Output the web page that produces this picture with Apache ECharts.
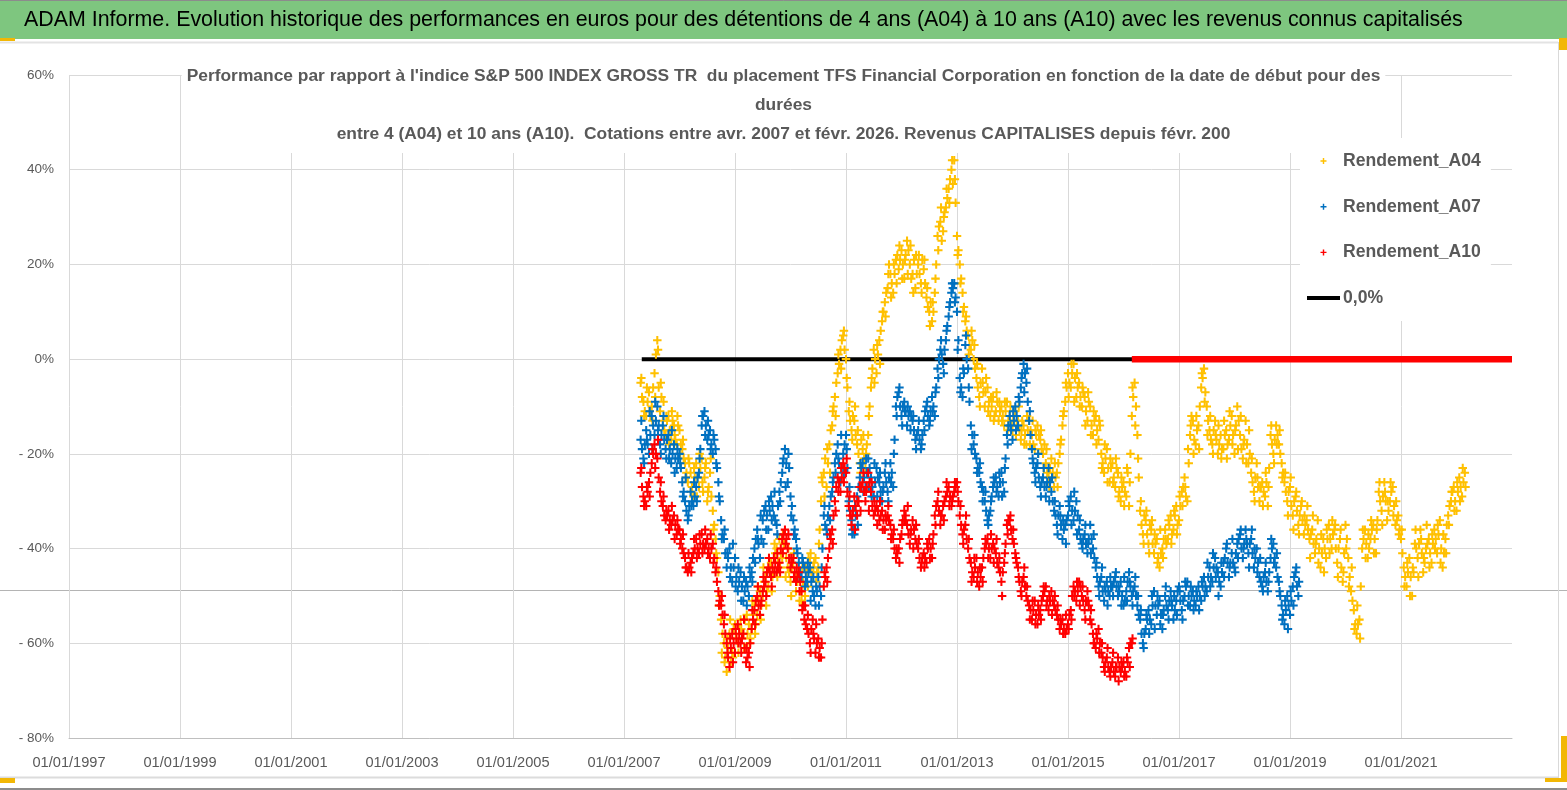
<!DOCTYPE html>
<html>
<head>
<meta charset="utf-8">
<script src="https://cdn.jsdelivr.net/npm/echarts@6/dist/echarts.min.js"></script>
<style>
  html, body { margin: 0; padding: 0; background: #fff; }
  #chart { width: 1567px; height: 790px; }
</style>
</head>
<body>
<div id="chart"></div>
<script>
const headerText = 'ADAM Informe. Evolution historique des performances en euros pour des détentions de 4 ans (A04) à 10 ans (A10) avec les revenus connus capitalisés'
const titleLines = [
  "Performance par rapport à l'indice S&P 500 INDEX GROSS TR  du placement TFS Financial Corporation en fonction de la date de début pour des",
  'durées',
  'entre 4 (A04) et 10 ans (A10).  Cotations entre avr. 2007 et févr. 2026. Revenus CAPITALISES depuis févr. 200'
]
const seriesNames = ['Rendement_A04', 'Rendement_A07', 'Rendement_A10', '0,0%']

// x axis in years, labels 01/01/yyyy every 2 years
const xMin = 1997
const xMax = 2023
const xStep = 2
// y axis in %
const yMin = -80
const yMax = 60
const yStep = 20

// samples: one every 0.05 year from the first quotation,
// plus sets read a quarter and a half step after them
const sampleStart = 2007.30
const sampleStep = 0.05

const a04Values = [
  -5, -9, -12, -7, -10, -3, 4, -11, -13, -16,
  -12, -17, -14, -18, -15, -19, -22, -26, -24, -29,
  -22, -27, -21, -25, -30, -24, -32, -38, -45, -55,
  -60, -66, -58, -62, -56, -60, -55, -58, -61, -56,
  -57, -52, -54, -49, -50, -46, -48, -43, -45, -40,
  -38, -42, -39, -44, -47, -43, -49, -46, -51, -48,
  -45, -43, -46, -42, -44, -30, -24, -27, -18, -14,
  -8, -3, 2, 5, 0, -11, -15, -13, -18, -22,
  -19, -23, -16, -6, 2, -3, 4, 8, 12, 15,
  18, 14, 21, 19, 23, 17, 25, 20, 18, 15,
  20, 16, 19, 13, 10, 8, 14, 26, 29, 27,
  32, 36, 40, 42, 26, 20, 14, 8, 5, 2,
  0, -4, -8, -2, -10, -6, -12, -8, -11, -13,
  -10, -14, -9, -12, -15, -11, -13, -17, -14, -18,
  -13, -16, -19, -14, -17, -20, -22, -25, -21, -27,
  -24, -20, -14, -9, -3, -6, -1, -8, -5, -10,
  -8, -13, -10, -16, -12, -17, -20, -24, -19, -26,
  -22, -27, -24, -30, -26, -29, -31, -12, -5, -16,
  -32, -37, -34, -39, -36, -41, -38, -44, -40, -36,
  -38, -33, -36, -31, -34, -28, -25, -30, -16, -13,
  -18, -14, -6, -2, -10, -15, -18, -13, -20, -16,
  -19, -15, -17, -12, -20, -10, -16, -21, -13, -22,
  -24, -28, -22, -30, -26, -29, -31, -16, -20, -14,
  -18, -22, -26, -30, -27, -33, -29, -35, -31, -37,
  -34, -38, -36, -41, -34, -44, -38, -42, -35, -40,
  -36, -43, -38, -47, -35, -42, -49, -53, -58, -55,
  -40, -36, -42, -38, -35, -41, -28, -32, -26, -34,
  -30, -27, -35, -33, -38, -44, -48, -42, -50, -39,
  -42, -36, -45, -40, -38, -43, -36, -41, -34, -44,
  -38, -33, -30, -27, -32, -25, -29, -24
]
const a04Quarter = [
  -4, -12, -6, -11, -13, -8, 2, -5, -9, -12,
  -18, -11, -16, -12, -20, -17, -25, -21, -28, -23,
  -29, -20, -26, -23, -28, -21, -36, -41, -52, -62,
  -64, -59, -55, -63, -58, -62, -57, -61, -54, -60,
  -51, -58, -48, -55, -44, -52, -42, -49, -39, -46,
  -44, -37, -46, -40, -50, -41, -45, -51, -44, -50,
  -48, -41, -44, -47, -39, -25, -29, -19, -24, -11,
  -12, 1, -2, 6, -4, -9, -17, -10, -15, -24,
  -16, -20, -12, -4, -5, 3, -1, 10, 9, 18,
  13, 20, 16, 24, 17, 21, 18, 24, 14, 22,
  22, 14, 21, 15, 7, 12, 17, 23, 32, 30,
  36, 33, 42, 38, 22, 16, 10, 9, 1, 6,
  3, -1, -10, -5, -7, -11, -8, -13, -7, -9,
  -13, -9, -15, -10, -13, -16, -10, -15, -18, -12,
  -18, -13, -15, -20, -15, -23, -19, -27, -25, -22,
  -27, -18, -12, -5, -8, -1, -9, -3, -10, -6,
  -14, -7, -16, -11, -18, -13, -23, -18, -26, -21,
  -26, -21, -29, -25, -31, -23, -26, -6, -14, -21,
  -30, -39, -32, -41, -34, -37, -43, -36, -42, -38,
  -34, -39, -32, -37, -29, -31, -27, -19, -14, -20,
  -12, -19, -3, -9, -16, -12, -20, -16, -14, -21,
  -13, -21, -11, -18, -15, -19, -12, -18, -22, -15,
  -21, -30, -25, -27, -31, -24, -27, -14, -22, -18,
  -15, -25, -24, -33, -25, -36, -28, -37, -30, -33,
  -31, -42, -33, -39, -43, -37, -45, -36, -41, -34,
  -35, -46, -36, -45, -40, -48, -44, -57, -52, -59,
  -36, -42, -37, -34, -41, -36, -26, -35, -28, -30,
  -26, -33, -30, -37, -36, -48, -43, -50, -44, -36,
  -46, -38, -42, -35, -44, -37, -40, -35, -43, -37,
  -41, -35, -28, -32, -26, -30, -23, -27
]
const a04Mid = [
  -8, -11, -9, -12, -6, 1, -6, -8, -15, -13,
  -15, -13, -17, -14, -18, -21, -24, -22, -27, -25,
  -25, -23, -28, -22, -27, -29, -35, -42, -50, -58,
  -63, -61, -64, -57, -59, -57, -59, -55, -58, -59,
  -54, -56, -51, -52, -47, -49, -44, -46, -41, -43,
  -41, -39, -42, -45, -44, -46, -47, -49, -47, -44,
  -42, -45, -43, -45, -36, -26, -21, -22, -15, -10,
  -5, -1, 4, 2, -6, -13, -12, -16, -20, -17,
  -21, -18, -10, -2, 0, 1, 6, 10, 14, 20,
  16, 18, 22, 21, 20, 22, 23, 17, 21, 18,
  18, 21, 16, 11, 12, 10, 20, 28, 25, 31,
  34, 38, 37, 33, 23, 17, 11, 6, 3, 4,
  -2, -6, -5, -7, -4, -9, -10, -12, -9, -11,
  -12, -11, -13, -14, -12, -14, -15, -13, -16, -15,
  -15, -18, -16, -16, -19, -18, -24, -23, -24, -25,
  -22, -17, -11, -6, -5, -3, -4, -6, -8, -7,
  -11, -9, -14, -13, -15, -14, -22, -21, -23, -23,
  -25, -23, -28, -27, -28, -24, -20, -8, -10, -25,
  -35, -33, -37, -35, -39, -39, -42, -41, -38, -39,
  -35, -37, -33, -35, -31, -27, -29, -22, -12, -17,
  -15, -10, -4, -7, -13, -17, -15, -17, -18, -19,
  -16, -18, -14, -16, -14, -13, -19, -17, -18, -20,
  -26, -25, -27, -27, -28, -26, -23, -18, -17, -16,
  -20, -24, -28, -28, -31, -30, -32, -33, -34, -35,
  -36, -37, -39, -38, -40, -41, -40, -38, -38, -37,
  -40, -40, -44, -41, -38, -46, -51, -56, -56, -48,
  -38, -39, -40, -36, -38, -34, -30, -29, -30, -32,
  -28, -31, -34, -36, -41, -46, -45, -46, -45, -40,
  -39, -41, -43, -39, -41, -39, -38, -37, -40, -41,
  -35, -31, -28, -30, -28, -27, -26
]

const a07Values = [
  -17, -21, -15, -20, -12, -16, -10, -18, -14, -19,
  -16, -22, -18, -23, -20, -26, -30, -34, -28, -31,
  -27, -24, -14, -11, -17, -15, -20, -19, -26, -34,
  -38, -44, -40, -47, -42, -49, -45, -51, -47, -50,
  -45, -40, -36, -42, -34, -31, -36, -29, -33, -35,
  -28, -24, -19, -26, -29, -34, -38, -43, -46, -44,
  -47, -44, -49, -52, -46, -50, -33, -36, -31, -28,
  -22, -18, -26, -20, -16, -30, -34, -37, -29, -25,
  -22, -27, -21, -25, -29, -23, -26, -30, -24, -28,
  -22, -27, -10, -7, -12, -9, -14, -11, -13, -17,
  -15, -19, -13, -10, -14, -8, -12, -2, 2, -1,
  4, 9, 14, 16, 10, -4, -8, 3, -2, -14,
  -18, -21, -24, -27, -30, -34, -32, -27, -25, -29,
  -24, -28, -16, -12, -17, -10, -14, -6, -1, -5,
  -13, -19, -24, -22, -27, -25, -29, -23, -28, -32,
  -35, -31, -38, -35, -33, -29, -34, -30, -36, -39,
  -37, -41, -35, -40, -44, -48, -46, -51, -47, -50,
  -48, -46, -50, -47, -52, -49, -45, -50, -48, -52,
  -55, -60, -57, -53, -56, -49, -54, -51, -57, -50,
  -53, -49, -55, -51, -48, -53, -50, -47, -52, -49,
  -52, -48, -51, -46, -49, -44, -47, -42, -45, -48,
  -43, -40, -46, -41, -44, -39, -37, -42, -36, -41,
  -38, -44, -40, -46, -48, -45, -49, -42, -39, -44,
  -47, -52, -56, -50, -54, -48, -45, -50
]
const a07Quarter = [
  -13, -22, -17, -11, -19, -9, -15, -20, -12, -21,
  -21, -15, -24, -19, -22, -29, -25, -33, -31, -26,
  -30, -21, -12, -16, -13, -19, -16, -22, -29, -38,
  -36, -41, -46, -39, -48, -44, -51, -46, -52, -44,
  -47, -43, -38, -33, -39, -36, -30, -34, -28, -37,
  -30, -22, -27, -20, -33, -37, -40, -46, -42, -48,
  -43, -51, -46, -48, -52, -44, -31, -37, -34, -26,
  -24, -21, -16, -24, -19, -27, -37, -31, -35, -22,
  -28, -21, -27, -29, -22, -29, -24, -28, -22, -30,
  -26, -20, -12, -6, -14, -11, -10, -15, -12, -19,
  -13, -18, -15, -9, -13, -11, -7, -4, 4, -3,
  6, 11, 16, 12, 2, -7, -2, 5, -6, -19,
  -16, -24, -22, -30, -28, -35, -30, -25, -28, -24,
  -29, -23, -18, -14, -11, -15, -8, -4, -7, -2,
  -11, -21, -26, -20, -29, -23, -27, -30, -25, -30,
  -37, -33, -34, -39, -30, -35, -28, -37, -34, -40,
  -35, -39, -41, -37, -43, -50, -44, -48, -52, -46,
  -50, -45, -48, -52, -46, -51, -47, -52, -46, -50,
  -53, -61, -54, -58, -50, -57, -50, -56, -54, -48,
  -55, -51, -50, -54, -49, -55, -47, -52, -48, -53,
  -49, -53, -47, -50, -43, -48, -41, -46, -50, -43,
  -46, -39, -44, -38, -45, -42, -36, -40, -38, -44,
  -36, -40, -45, -42, -49, -43, -47, -38, -43, -41,
  -49, -55, -51, -57, -49, -52, -44, -47
]
const a07Mid = [
  -19, -18, -18, -16, -14, -13, -14, -16, -17, -17,
  -19, -20, -21, -21, -23, -28, -32, -31, -30, -29,
  -25, -19, -12, -14, -16, -18, -17, -23, -30, -37,
  -41, -42, -44, -44, -46, -47, -48, -49, -48, -46,
  -42, -38, -39, -38, -32, -33, -32, -31, -34, -31,
  -26, -21, -22, -23, -31, -36, -41, -45, -43, -46,
  -45, -47, -50, -49, -48, -40, -35, -33, -29, -25,
  -20, -22, -23, -18, -23, -32, -36, -33, -27, -23,
  -25, -24, -23, -27, -26, -25, -28, -27, -26, -25,
  -24, -17, -8, -10, -10, -11, -12, -12, -15, -16,
  -17, -16, -11, -12, -11, -10, -6, 0, 1, 2,
  7, 12, 15, 13, 4, -6, -3, 0, -9, -16,
  -20, -23, -26, -28, -32, -33, -29, -26, -27, -26,
  -26, -21, -14, -15, -13, -12, -9, -3, -3, -9,
  -16, -22, -23, -25, -26, -27, -26, -26, -30, -33,
  -33, -35, -36, -34, -31, -32, -32, -33, -38, -38,
  -39, -38, -38, -42, -46, -47, -49, -49, -49, -48,
  -47, -48, -49, -50, -51, -47, -48, -49, -50, -54,
  -58, -58, -55, -55, -52, -52, -52, -54, -53, -52,
  -51, -52, -53, -49, -51, -51, -48, -50, -50, -51,
  -50, -50, -48, -48, -46, -46, -44, -44, -47, -45,
  -42, -43, -43, -43, -41, -38, -40, -39, -39, -39,
  -41, -42, -43, -47, -46, -47, -45, -40, -42, -46,
  -50, -54, -53, -52, -51, -46, -48
]

const a10Values = [
  -24, -29, -31, -26, -22, -18, -21, -28, -31, -34,
  -32, -35, -33, -37, -36, -40, -42, -45, -43, -41,
  -38, -41, -37, -40, -38, -42, -39, -45, -49, -52,
  -56, -60, -65, -58, -62, -56, -60, -58, -64, -62,
  -57, -53, -50, -54, -49, -47, -44, -46, -42, -45,
  -43, -38, -36, -40, -44, -42, -47, -45, -49, -55,
  -57, -60, -55, -62, -59, -63, -48, -44, -40, -36,
  -30, -25, -28, -22, -24, -31, -35, -29, -33, -27,
  -26, -30, -24, -28, -33, -31, -34, -32, -36, -33,
  -35, -38, -42, -40, -37, -32, -35, -39, -34, -38,
  -40, -44, -41, -43, -38, -42, -33, -30, -35, -31,
  -29, -27, -31, -28, -26, -33, -37, -35, -40, -43,
  -46, -42, -48, -44, -40, -38, -42, -39, -41, -44,
  -47, -43, -35, -34, -38, -41, -44, -49, -46, -50,
  -52, -55, -51, -56, -53, -50, -48, -53, -49, -52,
  -54, -57, -55, -58, -56, -53, -48, -51, -47, -50,
  -53, -49, -55, -58, -61, -57, -62, -65, -63, -66,
  -64, -67, -63, -66, -64, -67, -61, -60
]
const a10Quarter = [
  -23, -31, -27, -29, -19, -23, -17, -26, -29, -32,
  -36, -31, -38, -34, -39, -37, -44, -41, -45, -38,
  -42, -37, -41, -36, -41, -37, -43, -44, -52, -50,
  -54, -62, -59, -64, -57, -60, -62, -55, -61, -65,
  -53, -56, -48, -52, -46, -50, -42, -48, -45, -41,
  -45, -41, -39, -37, -42, -46, -44, -49, -53, -52,
  -54, -62, -58, -56, -63, -60, -45, -47, -37, -39,
  -32, -28, -23, -26, -21, -29, -33, -36, -30, -32,
  -24, -28, -32, -26, -30, -35, -30, -36, -33, -31,
  -38, -36, -40, -43, -35, -34, -31, -37, -40, -35,
  -38, -43, -44, -39, -42, -39, -35, -28, -33, -34,
  -26, -31, -30, -26, -28, -31, -39, -33, -38, -47,
  -42, -47, -44, -47, -38, -42, -37, -43, -38, -42,
  -50, -41, -37, -33, -36, -42, -46, -50, -44, -48,
  -55, -51, -56, -52, -55, -48, -52, -50, -54, -50,
  -52, -55, -58, -54, -57, -55, -50, -47, -52, -48,
  -55, -51, -53, -60, -58, -62, -60, -66, -61, -67,
  -62, -65, -68, -64, -67, -63, -65, -59
]
const a10Mid = [
  -27, -30, -28, -24, -20, -20, -25, -30, -33, -33,
  -34, -34, -35, -36, -38, -41, -44, -44, -42, -40,
  -40, -39, -39, -39, -40, -40, -42, -47, -51, -54,
  -58, -63, -61, -60, -59, -58, -59, -61, -63, -60,
  -55, -51, -52, -51, -48, -45, -45, -44, -43, -44,
  -40, -37, -38, -42, -43, -45, -46, -47, -52, -56,
  -58, -57, -59, -60, -61, -55, -46, -42, -38, -33,
  -27, -26, -25, -23, -28, -33, -32, -31, -30, -27,
  -28, -27, -26, -31, -32, -32, -33, -34, -34, -34,
  -37, -40, -41, -38, -34, -33, -37, -36, -36, -39,
  -42, -42, -42, -40, -40, -37, -31, -32, -33, -30,
  -28, -29, -29, -27, -30, -35, -36, -38, -42, -45,
  -44, -45, -46, -42, -39, -40, -40, -40, -43, -45,
  -45, -39, -34, -36, -39, -43, -47, -47, -48, -51,
  -53, -53, -54, -54, -51, -49, -51, -51, -51, -53,
  -55, -56, -57, -57, -54, -50, -49, -49, -48, -51,
  -51, -52, -56, -60, -59, -60, -63, -64, -65, -65,
  -66, -65, -65, -65, -66, -64, -60
]

// reference line 0,0% and the A10 cells left at 0 after its last value
const zeroLine = [[2007.32, 0], [2023, 0]]
const a10ZeroTail = [[2016.15, 0], [2023, 0]]

const colors = { a04: '#FFC000', a07: '#0070C0', a10: '#FF0000', zero: '#000000' }
const font = "'Liberation Sans', Arial, sans-serif"
const plus = 'path://M3.8,0H6.2V3.8H10V6.2H6.2V10H3.8V6.2H0V3.8H3.8Z'

function toPoints(values, shift) {
  return values.map((v, i) => [+(sampleStart + (i + shift) * sampleStep).toFixed(4), v])
}

function scatter(name, values, quarter, mid, color) {
  return {
    name: name,
    type: 'scatter',
    symbol: plus,
    symbolSize: 8.5,
    large: false,
    itemStyle: { color: color, opacity: 1 },
    data: toPoints(values, 0).concat(toPoints(quarter, 0.25), toPoints(mid, 0.5)),
    silent: true,
    animation: false
  }
}

const chart = echarts.init(document.getElementById('chart'), null, { renderer: 'canvas' })

const option = {
  backgroundColor: '#ffffff',
  animation: false,
  textStyle: { fontFamily: font },
  title: {
    text: titleLines.join('\n'),
    left: 'center',
    top: 57,
    z: 2,
    backgroundColor: '#ffffff',
    padding: [5, 5, 4, 5],
    textStyle: {
      fontFamily: font,
      fontSize: 17.4,
      fontWeight: 'bold',
      color: '#595959',
      lineHeight: 29,
      align: 'center'
    }
  },
  legend: {
    data: [
      { name: 'Rendement_A04' },
      { name: 'Rendement_A07' },
      { name: 'Rendement_A10' },
      { name: '0,0%', icon: 'path://M0,0H33V4H0Z' }
    ],
    orient: 'vertical',
    left: 1300,
    top: 138,
    z: 10,
    backgroundColor: '#ffffff',
    padding: [14, 10, 14, 7],
    itemGap: 27.7,
    itemWidth: 33,
    itemHeight: 6,
    textStyle: { fontFamily: font, fontSize: 17.6, fontWeight: 'bold', color: '#595959', padding: [0, 0, 0, -2] }
  },
  grid: { left: 69, right: 55, top: 75, bottom: 52, containLabel: false },
  xAxis: {
    type: 'value',
    min: xMin,
    max: xMax,
    interval: xStep,
    axisLine: { show: true, onZero: false, lineStyle: { color: '#bfbfbf', width: 1 } },
    axisTick: { show: false },
    splitLine: { show: true, showMaxLine: false, lineStyle: { color: '#d9d9d9', width: 1 } },
    axisLabel: {
      showMaxLabel: false,
      margin: 17,
      fontFamily: font,
      fontSize: 14.6,
      color: '#595959',
      formatter: v => '01/01/' + v
    }
  },
  yAxis: {
    type: 'value',
    min: yMin,
    max: yMax,
    interval: yStep,
    axisLine: { show: false },
    axisTick: { show: false },
    splitLine: { show: true, lineStyle: { color: '#d9d9d9', width: 1 } },
    axisLabel: {
      margin: 15,
      fontFamily: font,
      fontSize: 13.5,
      color: '#595959',
      formatter: v => (v < 0 ? '- ' + (-v) : v) + '%'
    }
  },
  series: [
    {
      name: '0,0%',
      type: 'line',
      data: zeroLine,
      symbol: 'none',
      lineStyle: { color: colors.zero, width: 4 },
      itemStyle: { color: colors.zero },
      silent: true,
      z: 1
    },
    scatter('Rendement_A04', a04Values, a04Quarter, a04Mid, colors.a04),
    scatter('Rendement_A07', a07Values, a07Quarter, a07Mid, colors.a07),
    scatter('Rendement_A10', a10Values, a10Quarter, a10Mid, colors.a10),
    {
      name: 'A10_tail',
      type: 'line',
      data: a10ZeroTail,
      symbol: 'none',
      lineStyle: { color: colors.a10, width: 6.5 },
      silent: true,
      z: 3
    }
  ],
  graphic: [
    { type: 'rect', shape: { x: 0, y: 0, width: 1567, height: 39 }, style: { fill: '#7ec67f' }, silent: true },
    { type: 'line', shape: { x1: 0, y1: 0.5, x2: 1567, y2: 0.5 }, style: { stroke: '#8c8c8c', lineWidth: 1 }, silent: true },
    { type: 'line', shape: { x1: 0, y1: 42.5, x2: 1558, y2: 42.5 }, style: { stroke: '#e3e3e3', lineWidth: 2 }, silent: true },
    {
      type: 'text', silent: true,
      style: { x: 24, y: 20, text: headerText, fontFamily: font, fontSize: 21.4, fill: '#000000', verticalAlign: 'middle' }
    },
    { type: 'line', shape: { x1: 0, y1: 590.5, x2: 1567, y2: 590.5 }, style: { stroke: '#b4b4b4', lineWidth: 1 }, silent: true },
    { type: 'line', shape: { x1: 1558.5, y1: 42, x2: 1558.5, y2: 778 }, style: { stroke: '#d9d9d9', lineWidth: 1 }, silent: true },
    { type: 'line', shape: { x1: 0, y1: 777.5, x2: 1558, y2: 777.5 }, style: { stroke: '#dcdcdc', lineWidth: 2 }, silent: true },
    { type: 'line', shape: { x1: 0, y1: 789, x2: 1567, y2: 789 }, style: { stroke: '#8c8c8c', lineWidth: 2 }, silent: true },
    { type: 'rect', shape: { x: 0, y: 38, width: 15, height: 3 }, style: { fill: '#f2b705' }, silent: true },
    { type: 'rect', shape: { x: 0, y: 778, width: 15, height: 5 }, style: { fill: '#f2b705' }, silent: true },
    { type: 'rect', shape: { x: 1559, y: 38, width: 8, height: 12 }, style: { fill: '#f2b705' }, silent: true },
    { type: 'rect', shape: { x: 1561, y: 736, width: 6, height: 46 }, style: { fill: '#f2b705' }, silent: true },
    { type: 'rect', shape: { x: 1545, y: 778, width: 22, height: 4 }, style: { fill: '#f2b705' }, silent: true }
  ]
}

chart.setOption(option)
</script>
</body>
</html>
